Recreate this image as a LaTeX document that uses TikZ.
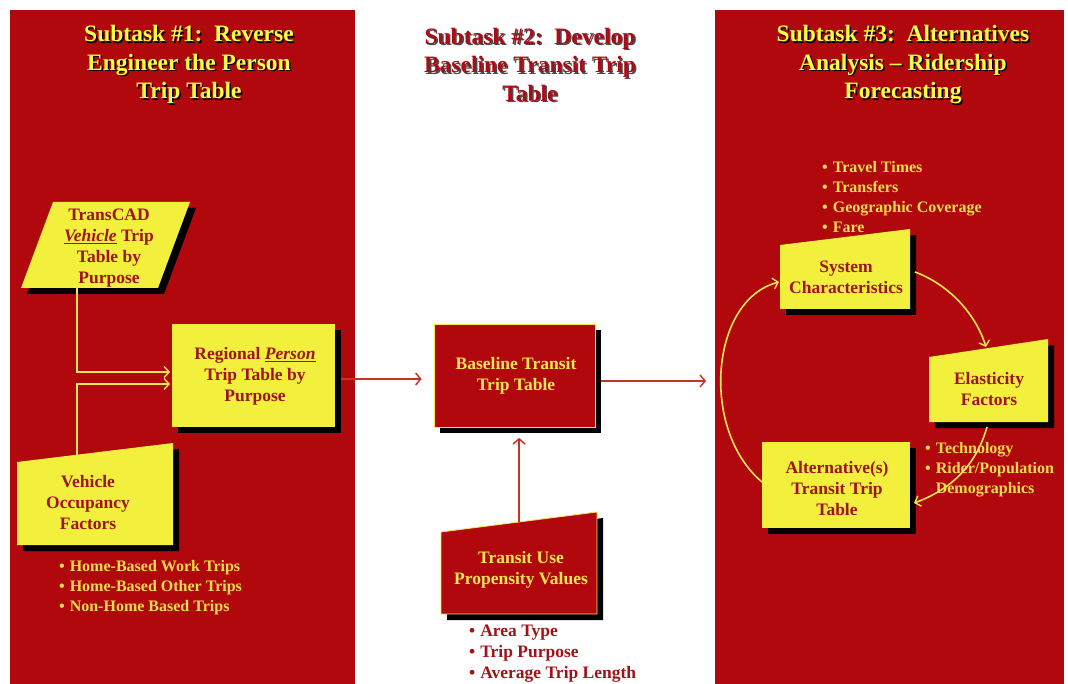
\documentclass[tikz,border=0pt]{standalone}
\usepackage{fontspec}
\setmainfont{Liberation Serif}
\newfontfamily\hdfont[Ligatures=TeX]{Liberation Serif}
\usetikzlibrary{arrows.meta,calc}
\definecolor{panelred}{HTML}{B0080C}
\definecolor{boxyellow}{HTML}{F2F03C}
\definecolor{txtred}{HTML}{A01418}
\definecolor{hdyellow}{HTML}{FFFF48}
\definecolor{hdred}{HTML}{A80E18}
\definecolor{bulyellow}{HTML}{F4DC4C}
\definecolor{arrowred}{HTML}{C83424}
\definecolor{lineyellow}{HTML}{F6E652}
\definecolor{shadowc}{HTML}{000000}
\tikzset{
  hdtext/.style={align=center,inner sep=0pt,font=\hdfont\bfseries\fontsize{23.5}{28.5}\selectfont},
  boxtext/.style={align=center,inner sep=0pt,text=txtred,font=\bfseries\fontsize{17.5}{21}\selectfont},
  redboxtext/.style={boxtext,text=lineyellow},
  bullets/.style={align=left,inner sep=0pt,anchor=west,font=\bfseries\fontsize{16}{20}\selectfont},
  bigbullets/.style={bullets,font=\bfseries\fontsize{17.5}{21}\selectfont},
  yshape/.style={fill=boxyellow},
  rshape/.style={fill=panelred,draw=lineyellow,line width=0.8pt},
  shadowshape/.style={fill=shadowc},
  yconn/.style={draw=lineyellow,line width=1.6pt,-{Straight Barb[length=5pt,width=11pt,line width=1.4pt]}},
  rconn/.style={draw=arrowred,line width=1.8pt,-{Straight Barb[length=5pt,width=12pt,line width=1.5pt]}}
}
\begin{document}
\begin{tikzpicture}[x=1pt,y=-1pt]
\useasboundingbox (0,0) rectangle (1068,684);
\fill[white] (0,0) rectangle (1068,684);
\fill[panelred] (10,10) rectangle (355,684);
\fill[panelred] (715,10) rectangle (1064,684);

% headers
\node[hdtext,text=black] (h1s) at (190.5,66) {Subtask \#1:\ \ Reverse\\Engineer the Person\\Trip Table};
\node[hdtext,text=hdyellow] (h1) at (189,64.5) {Subtask \#1:\ \ Reverse\\Engineer the Person\\Trip Table};
\node[hdtext,text=black!70] (h2s) at (531.5,66) {Subtask \#2:\ \ Develop\\Baseline Transit Trip\\Table};
\node[hdtext,text=hdred] (h2) at (530,64.5) {Subtask \#2:\ \ Develop\\Baseline Transit Trip\\Table};
\node[hdtext,text=black] (h3s) at (904.5,66) {Subtask \#3:\ \ Alternatives\\Analysis – Ridership\\Forecasting};
\node[hdtext,text=hdyellow] (h3) at (903,64.5) {Subtask \#3:\ \ Alternatives\\Analysis – Ridership\\Forecasting};

% ---- panel 1 ----
\fill[shadowc] (59,208) -- (196,208) -- (164,294) -- (27,294) -- cycle;
\fill[boxyellow] (53,202) -- (190,202) -- (158,288) -- (21,288) -- cycle;
\node[boxtext] (tcad) at (109,248.5) {TransCAD\\\underline{\textit{Vehicle}} Trip\\Table by\\Purpose};
\coordinate (tcadB) at (77,288);

\fill[shadowc] (178,330) rectangle (341,433);
\node[boxtext,fill=boxyellow,minimum width=163pt,minimum height=103pt] (regional) at (253.5,375.5) {};
\node[boxtext] (regionalt) at (255,376) {Regional \underline{\textit{Person}}\\Trip Table by\\Purpose};
\coordinate (rin1) at (172,372);
\coordinate (rin2) at (172,384);

\fill[shadowc] (23,468) -- (179,449) -- (179,551) -- (23,551) -- cycle;
\fill[boxyellow] (17,462) -- (173,443) -- (173,545) -- (17,545) -- cycle;
\node[boxtext] (vocc) at (88,503) {Vehicle\\Occupancy\\Factors};
\coordinate (voccT) at (77,455);

\draw[yconn,shorten >=2pt] (tcadB) |- (rin1);
\draw[yconn,shorten >=2pt] (voccT) |- (rin2);

\node[bullets,text=bulyellow] (b1) at (59,587.5) {\textbullet\hspace{5pt}Home-Based Work Trips\\\textbullet\hspace{5pt}Home-Based Other Trips\\\textbullet\hspace{5pt}Non-Home Based Trips};

% ---- panel 2 ----
\fill[shadowc] (440,330) rectangle (601,433);
\node[rshape,minimum width=161pt,minimum height=103pt,inner sep=0pt] (baseline) at (514.5,375.5) {};
\node[redboxtext] (baselinet) at (516,375.5) {Baseline Transit\\Trip Table};

\fill[shadowc] (447,538) -- (603,518) -- (603,620) -- (447,620) -- cycle;
\filldraw[rshape] (441,532) -- (597,512) -- (597,614) -- (441,614) -- cycle;
\node[redboxtext] (tuse) at (521,569.5) {Transit Use\\Propensity Values};
\coordinate (tuseT) at (519,522);
\coordinate (baselineB) at (519,438);
\coordinate (s3in) at (706,381);

\draw[rconn,shorten <=6pt,shorten >=12pt] ($(regional.east)+(0,3.5)$) -- ($(baseline.west)+(0,3.5)$);
\draw[rconn] (tuseT) -- (baselineB);
\draw[rconn,shorten <=6pt] ($(baseline.east)+(0,5.5)$) -- (s3in);

\node[bigbullets,text=txtred] (b2) at (469,653.5) {\textbullet\hspace{5pt}Area Type\\\textbullet\hspace{5pt}Trip Purpose\\\textbullet\hspace{5pt}Average Trip Length};

% ---- panel 3 ----
\node[bullets,text=bulyellow] (b3) at (822,197.5) {\textbullet\hspace{5pt}Travel Times\\\textbullet\hspace{5pt}Transfers\\\textbullet\hspace{5pt}Geographic Coverage\\\textbullet\hspace{5pt}Fare};

\fill[shadowc] (786,251) -- (916,235) -- (916,315) -- (786,315) -- cycle;
\fill[boxyellow] (780,245) -- (910,229) -- (910,309) -- (780,309) -- cycle;
\node[boxtext] (sys) at (846,277.5) {System\\Characteristics};

\fill[shadowc] (935,363) -- (1054,345) -- (1054,428) -- (935,428) -- cycle;
\fill[boxyellow] (929,357) -- (1048,339) -- (1048,422) -- (929,422) -- cycle;
\node[boxtext] (ela) at (989,389.5) {Elasticity\\Factors};

\fill[shadowc] (768,448) rectangle (916,534);
\node[fill=boxyellow,minimum width=148pt,minimum height=86pt,inner sep=0pt] (alt) at (836,485) {};
\node[boxtext] (altt) at (837,488.5) {Alternative(s)\\Transit Trip\\Table};

\node[bullets,text=bulyellow] (b4) at (925,470) {\textbullet\hspace{5pt}Technology\\\textbullet\hspace{5pt}Rider/Population\\\phantom{\textbullet}\hspace{5pt}Demographics};

\coordinate (sysR) at (915,272);
\coordinate (elaT) at (986,347);
\coordinate (elaB) at (987,427);
\coordinate (altR) at (914,503);
\coordinate (altL) at (762,482);
\coordinate (sysL) at (779,282);
\draw[yconn] (sysR) .. controls (950,285) and (976,315) .. (elaT);
\draw[yconn] (elaB) .. controls (976,466) and (950,490) .. (altR);
\draw[yconn] (altL) .. controls (700,430) and (710,300) .. (sysL);
\end{tikzpicture}
\end{document}
